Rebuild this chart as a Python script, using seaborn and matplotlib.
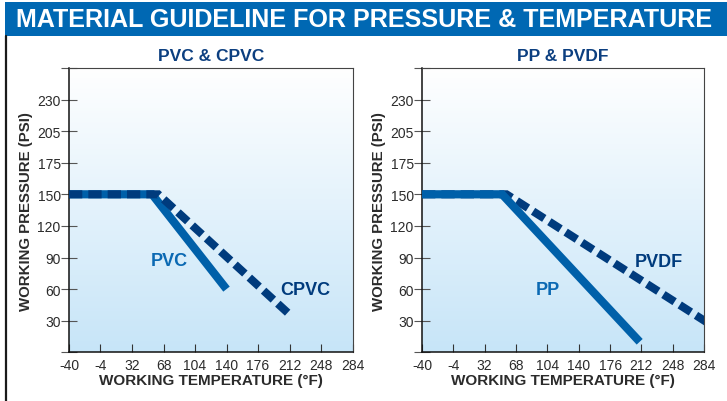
import numpy as np
import matplotlib
matplotlib.use("Agg")
import matplotlib.pyplot as plt
import seaborn as sns
from matplotlib.colors import LinearSegmentedColormap
from matplotlib.patches import Rectangle
from matplotlib.lines import Line2D

# Values
temp_ticks = [-40, -4, 32, 68, 104, 140, 176, 212, 248, 284]
psi_ticks = [0, 30, 60, 90, 120, 150, 175, 205, 230, 255]
psi_labels = ["", "30", "60", "90", "120", "150", "175", "205", "230", ""]

pvc_temp = [-40, 55, 140]
pvc_psi = [150, 150, 60]
cpvc_temp = [-40, 62, 212]
cpvc_psi = [150, 150, 36]
pp_temp = [-40, 52, 210]
pp_psi = [150, 150, 10]
pvdf_temp = [-40, 57, 290]
pvdf_psi = [150, 150, 27]

# Colours
BANNER = "#0068b3"
NAVY = "#003b7d"
MID = "#0060a9"
LABEL_MID = "#0b69b3"
TXT = "#2b2b2b"

sns.set_style("ticks")
plt.rcParams["font.family"] = ["Liberation Sans", "DejaVu Sans"]

W, H = 727, 402
fig = plt.figure(figsize=(W / 100, H / 100), dpi=100)

# title banner and left frame line
fig.patches.append(Rectangle((5 / W, 1 - 37 / H), 1, 34 / H, transform=fig.transFigure,
                             facecolor=BANNER, edgecolor="none"))
fig.text(364 / W, 1 - 20 / H, "MATERIAL GUIDELINE FOR PRESSURE & TEMPERATURE",
         color="white", fontsize=18.1, fontweight="bold", ha="center", va="center")
fig.lines.append(Line2D([6 / W, 6 / W], [0, 1 - 37 / H], transform=fig.transFigure,
                        color="#1a1a1a", lw=1.6))

# piecewise-linear pressure axis (ticks equally spaced)
pos_idx = np.arange(len(psi_ticks), dtype=float)


def fwd(v):
    return np.interp(v, psi_ticks, pos_idx)


def inv(p):
    return np.interp(p, pos_idx, psi_ticks)


grad = LinearSegmentedColormap.from_list("bg", ["#c7e5f8", "#ffffff"])

panels = [
    ([0.0949, 0.1211, 0.390, 0.7075], "PVC & CPVC",
     (pvc_temp, pvc_psi, "PVC", 75, 87), (cpvc_temp, cpvc_psi, "CPVC", 230, 60), "dash_top"),
    ([0.5805, 0.1211, 0.388, 0.7075], "PP & PVDF",
     (pp_temp, pp_psi, "PP", 104, 60), (pvdf_temp, pvdf_psi, "PVDF", 232, 86), "solid_top"),
]

dash_style = (0, (1.65, 0.75))

for rect, title, solid, dashed, order in panels:
    bg = fig.add_axes(rect, zorder=0)
    bg.imshow(np.linspace(0, 1, 256).reshape(-1, 1), aspect="auto", cmap=grad,
              extent=[0, 1, 0, 1], origin="lower")
    bg.set_axis_off()

    ax = fig.add_axes(rect, zorder=1)
    ax.set_facecolor("none")
    ax.set_yscale("function", functions=(fwd, inv))

    z_solid, z_dash = (2, 3) if order == "dash_top" else (3, 2)
    sns.lineplot(x=solid[0], y=solid[1], ax=ax, color=MID, lw=5.9, sort=False,
                 solid_capstyle="butt", solid_joinstyle="miter", zorder=z_solid)
    sns.lineplot(x=dashed[0], y=dashed[1], ax=ax, color=NAVY, lw=5.8, sort=False,
                 linestyle=dash_style, dash_capstyle="butt", dash_joinstyle="miter",
                 zorder=z_dash)

    ax.text(solid[3], solid[4], solid[2], color=LABEL_MID, fontsize=13,
            fontweight="bold", ha="center", va="center")
    ax.text(dashed[3], dashed[4], dashed[2], color=NAVY, fontsize=13,
            fontweight="bold", ha="center", va="center")

    ax.set_xlim(-40, 284)
    ax.set_ylim(0, 255)
    ax.set_xticks(temp_ticks)
    ax.set_xticklabels([str(t) for t in temp_ticks])
    ax.set_xticks([-40], minor=True)
    ax.set_yticks(psi_ticks)
    ax.set_yticklabels(psi_labels)
    ax.tick_params(axis="x", which="major", direction="in", length=6, width=0.8,
                   color="#333333", labelsize=10, labelcolor=TXT, pad=4)
    ax.tick_params(axis="x", which="minor", direction="out", length=7, width=0.8,
                   color="#333333")
    ax.tick_params(axis="y", direction="inout", length=11, width=0.8,
                   color="#555555", labelsize=10, labelcolor=TXT, pad=0.5)

    for side in ["left", "bottom"]:
        ax.spines[side].set_color("#111111")
        ax.spines[side].set_linewidth(1.1)
    for side in ["top", "right"]:
        ax.spines[side].set_color("#444444")
        ax.spines[side].set_linewidth(0.8)

    ax.set_xlabel("WORKING TEMPERATURE (°F)", fontsize=11, fontweight="bold",
                  color=TXT, labelpad=1)
    ax.set_ylabel("WORKING PRESSURE (PSI)", fontsize=10.8, fontweight="bold",
                  color=TXT, labelpad=3)
    ax.set_title(title, fontsize=12.5, fontweight="bold", color="#0c3f80", pad=6)

fig.savefig("out.png", dpi=100)
